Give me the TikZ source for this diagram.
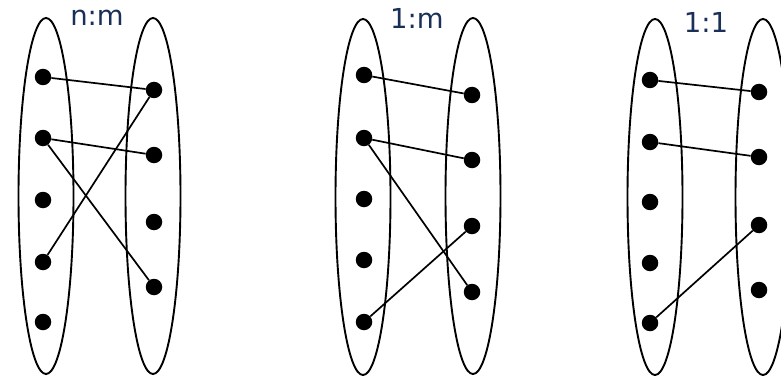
\documentclass[tikz,border=0pt]{standalone}
\usepackage{fontspec}
\setmainfont{DejaVu Sans}
\usepackage{xcolor}
\usetikzlibrary{shapes.geometric}

\definecolor{labelblue}{RGB}{26,48,88}

\begin{document}
\begin{tikzpicture}[
  x=1pt, y=-1pt,
  set/.style={ellipse, draw, line width=1.9pt, inner sep=0pt,
    minimum width=55pt, minimum height=356pt},
  elem/.style={circle, fill=black, inner sep=0pt, minimum size=16.5pt},
  link/.style={line width=1.7pt},
  ratio/.style={font=\fontsize{27.5}{30}\selectfont, text=labelblue,
    anchor=base, inner sep=0pt}
]
\useasboundingbox (0,0) rectangle (781,377);

% n:m
\node[set] (nmA) at (46,196) {};
\node[set] (nmB) at (153,196) {};
\node[ratio] (nmT) at (97,26) {n:m};
\node[elem] (nmA1) at (43,77) {};
\node[elem] (nmA2) at (43,138) {};
\node[elem] (nmA3) at (43,200) {};
\node[elem] (nmA4) at (43,262) {};
\node[elem] (nmA5) at (43,322) {};
\node[elem] (nmB1) at (154,90) {};
\node[elem] (nmB2) at (154,155) {};
\node[elem] (nmB3) at (154,222) {};
\node[elem] (nmB4) at (154,287) {};
\draw[link] (nmA1) -- (nmB1);
\draw[link] (nmA2) -- (nmB2);
\draw[link] (nmA2) -- (nmB4);
\draw[link] (nmA4) -- (nmB1);

% 1:m
\node[set] (omA) at (363,197) {};
\node[set] (omB) at (473,196) {};
\node[ratio] (omT) at (417,29) {1:m};
\node[elem] (omA1) at (364,75) {};
\node[elem] (omA2) at (364,138) {};
\node[elem] (omA3) at (364,199) {};
\node[elem] (omA4) at (364,260) {};
\node[elem] (omA5) at (364,322) {};
\node[elem] (omB1) at (472,95) {};
\node[elem] (omB2) at (472,160) {};
\node[elem] (omB3) at (472,226) {};
\node[elem] (omB4) at (472,292) {};
\draw[link] (omA1) -- (omB1);
\draw[link] (omA2) -- (omB2);
\draw[link] (omA2) -- (omB4);
\draw[link] (omA5) -- (omB3);

% 1:1
\node[set] (ooA) at (655,197) {};
\node[set] (ooB) at (763,197) {};
\node[ratio] (ooT) at (706,33) {1:1};
\node[elem] (ooA1) at (650,80) {};
\node[elem] (ooA2) at (650,142) {};
\node[elem] (ooA3) at (650,202) {};
\node[elem] (ooA4) at (650,263) {};
\node[elem] (ooA5) at (650,323) {};
\node[elem] (ooB1) at (759,92) {};
\node[elem] (ooB2) at (759,157) {};
\node[elem] (ooB3) at (759,225) {};
\node[elem] (ooB4) at (759,290) {};
\draw[link] (ooA1) -- (ooB1);
\draw[link] (ooA2) -- (ooB2);
\draw[link] (ooA5) -- (ooB3);

\end{tikzpicture}
\end{document}
